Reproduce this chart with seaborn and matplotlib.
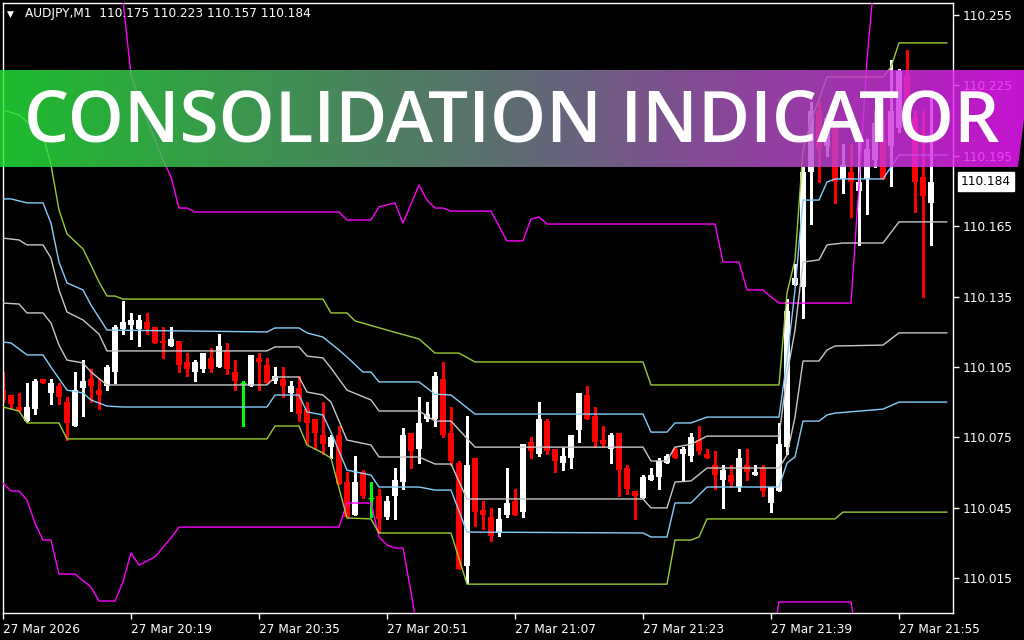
import matplotlib
matplotlib.use("Agg")
import matplotlib.pyplot as plt
import matplotlib.transforms as mtransforms
from matplotlib.colors import LinearSegmentedColormap
from matplotlib.patches import Polygon
import numpy as np
import pandas as pd
import seaborn as sns

# AUDJPY M1 bars, 27 Mar 2026 20:03 -> 21:59
bar_times = pd.date_range("2026-03-27 20:03", periods=117, freq="min")

opens = [110.095, 110.093, 110.088, 110.082, 110.087, 110.100, 110.094, 110.097, 110.090, 110.080,
         110.096, 110.100, 110.095, 110.097, 110.103, 110.121, 110.123, 110.121, 110.124, 110.122,
         110.116, 110.114, 110.116, 110.107, 110.103, 110.104, 110.109, 110.105, 110.112, 110.103,
         110.098, 110.097, 110.109, 110.106, 110.099, 110.100, 110.094, 110.096, 110.087, 110.083,
         110.076, 110.071, 110.076, 110.056, 110.042, 110.060, 110.049, 110.050, 110.041, 110.050,
         110.056, 110.077, 110.070, 110.083, 110.083, 110.100, 110.077, 110.064, 110.020, 110.066,
         110.044, 110.041, 110.034, 110.042, 110.048, 110.043, 110.073, 110.068, 110.082, 110.070,
         110.064, 110.066, 110.078, 110.093, 110.084, 110.074, 110.070, 110.077, 110.062, 110.052,
         110.049, 110.057, 110.058, 110.064, 110.070, 110.068, 110.067, 110.074, 110.068, 110.063,
         110.057, 110.059, 110.054, 110.063, 110.059, 110.062, 110.047, 110.052, 110.071, 110.140,
         110.139, 110.188, 110.214, 110.199, 110.207, 110.185, 110.188, 110.180, 110.185, 110.193,
         110.202, 110.199, 110.207, 110.229, 110.211, 110.186, 110.175]
highs = [110.103, 110.093, 110.094, 110.098, 110.100, 110.100, 110.100, 110.098, 110.092, 110.103,
         110.108, 110.104, 110.100, 110.106, 110.123, 110.133, 110.128, 110.127, 110.128, 110.122,
         110.122, 110.122, 110.116, 110.111, 110.108, 110.111, 110.113, 110.119, 110.115, 110.108,
         110.099, 110.110, 110.111, 110.109, 110.105, 110.105, 110.099, 110.101, 110.090, 110.083,
         110.090, 110.076, 110.080, 110.060, 110.067, 110.061, 110.056, 110.053, 110.050, 110.062,
         110.079, 110.077, 110.092, 110.090, 110.103, 110.107, 110.088, 110.065, 110.084, 110.066,
         110.048, 110.045, 110.045, 110.062, 110.053, 110.072, 110.075, 110.090, 110.083, 110.070,
         110.071, 110.076, 110.094, 110.097, 110.088, 110.080, 110.077, 110.077, 110.063, 110.052,
         110.059, 110.062, 110.066, 110.068, 110.071, 110.071, 110.077, 110.080, 110.070, 110.069,
         110.063, 110.063, 110.070, 110.070, 110.063, 110.063, 110.054, 110.081, 110.134, 110.149,
         110.190, 110.218, 110.218, 110.213, 110.210, 110.200, 110.200, 110.202, 110.202, 110.214,
         110.210, 110.236, 110.232, 110.240, 110.214, 110.214, 110.223]
lows = [110.090, 110.087, 110.086, 110.082, 110.085, 110.098, 110.089, 110.089, 110.074, 110.080,
        110.084, 110.090, 110.087, 110.095, 110.098, 110.119, 110.117, 110.114, 110.119, 110.115,
        110.109, 110.114, 110.103, 110.101, 110.099, 110.103, 110.103, 110.105, 110.102, 110.095,
        110.080, 110.097, 110.095, 110.098, 110.098, 110.092, 110.086, 110.082, 110.072, 110.070,
        110.068, 110.066, 110.055, 110.041, 110.042, 110.049, 110.041, 110.034, 110.040, 110.040,
        110.053, 110.062, 110.064, 110.082, 110.080, 110.075, 110.063, 110.019, 110.013, 110.037,
        110.036, 110.031, 110.033, 110.041, 110.042, 110.041, 110.066, 110.067, 110.068, 110.060,
        110.061, 110.062, 110.073, 110.083, 110.071, 110.071, 110.064, 110.050, 110.051, 110.040,
        110.049, 110.057, 110.053, 110.064, 110.066, 110.057, 110.065, 110.068, 110.066, 110.053,
        110.045, 110.054, 110.052, 110.057, 110.059, 110.050, 110.043, 110.052, 110.068, 110.140,
        110.126, 110.166, 110.184, 110.195, 110.175, 110.179, 110.169, 110.157, 110.170, 110.190,
        110.185, 110.182, 110.205, 110.205, 110.171, 110.135, 110.157]
closes = [110.091, 110.089, 110.086, 110.088, 110.099, 110.098, 110.098, 110.092, 110.081, 110.095,
          110.099, 110.097, 110.093, 110.105, 110.122, 110.124, 110.125, 110.125, 110.121, 110.115,
          110.115, 110.117, 110.106, 110.104, 110.107, 110.111, 110.104, 110.114, 110.104, 110.099,
          110.098, 110.110, 110.107, 110.098, 110.101, 110.097, 110.097, 110.085, 110.081, 110.077,
          110.072, 110.075, 110.055, 110.041, 110.056, 110.050, 110.049, 110.040, 110.048, 110.057,
          110.076, 110.069, 110.081, 110.085, 110.101, 110.076, 110.065, 110.019, 110.063, 110.043,
          110.042, 110.033, 110.040, 110.047, 110.042, 110.072, 110.069, 110.083, 110.069, 110.065,
          110.067, 110.076, 110.094, 110.083, 110.073, 110.072, 110.076, 110.061, 110.053, 110.050,
          110.058, 110.059, 110.065, 110.067, 110.066, 110.070, 110.075, 110.069, 110.066, 110.059,
          110.061, 110.056, 110.066, 110.060, 110.060, 110.052, 110.054, 110.072, 110.129, 110.143,
          110.188, 110.214, 110.198, 110.211, 110.184, 110.191, 110.184, 110.184, 110.198, 110.209,
          110.185, 110.214, 110.231, 110.207, 110.184, 110.178, 110.184]

# indicator bands: vertices (bar index, price)
mag_up_i = [0, 10, 15, 16, 18, 20, 21, 22, 23, 24, 42, 43, 46, 47, 49, 50, 52, 53, 54, 55, 56, 61, 63, 65,
            66, 67, 68, 89, 90, 92, 93, 95, 96, 97, 106, 107, 108, 109, 118]
mag_up_v = [110.3467, 110.2870, 110.2614, 110.2294, 110.2102, 110.1932, 110.1860, 110.1727, 110.1727,
            110.1710, 110.1710, 110.1676, 110.1676, 110.1732, 110.1749, 110.1663, 110.1825, 110.1761,
            110.1727, 110.1727, 110.1714, 110.1714, 110.1587, 110.1587, 110.1680, 110.1689, 110.1659,
            110.1659, 110.1497, 110.1497, 110.1378, 110.1378, 110.1348, 110.1322, 110.1322, 110.1826,
            110.2358, 110.2742, 110.2900]
mag_lo_i = [0, 1, 2, 3, 4, 5, 6, 7, 9, 11, 12, 14, 15, 16, 17, 19, 21, 22, 24, 42, 43, 46, 47, 48, 49,
            50, 51, 52, 60, 90, 96, 97, 106, 107, 118]
mag_lo_v = [110.0555, 110.0521, 110.0521, 110.0483, 110.0384, 110.0312, 110.0312, 110.0167, 110.0167,
            110.0112, 110.0052, 110.0052, 110.0133, 110.0257, 110.0205, 110.0240, 110.0321, 110.0367,
            110.0367, 110.0367, 110.0470, 110.0470, 110.0325, 110.0291, 110.0278, 110.0278, 110.0090,
            109.9886, 109.9700, 109.9720, 109.9843, 110.0048, 110.0048, 109.9843, 109.9700]
green_up_i = [0, 2, 5, 6, 7, 8, 10, 11, 12, 13, 14, 15, 40, 41, 43, 44, 48, 52, 54, 57, 59, 80, 81, 97,
              98, 99, 100, 101, 102, 103, 110, 111, 112, 118]
green_up_v = [110.2145, 110.2124, 110.2039, 110.1911, 110.1719, 110.1617, 110.1553, 110.1484, 110.1412,
              110.1352, 110.1352, 110.1339, 110.1339, 110.1280, 110.1280, 110.1246, 110.1207, 110.1169,
              110.1109, 110.1109, 110.1071, 110.1071, 110.0973, 110.0973, 110.1365, 110.1506, 110.1975,
              110.2100, 110.2190, 110.2286, 110.2286, 110.2328, 110.2431, 110.2431]
green_lo_i = [0, 2, 3, 7, 8, 33, 34, 37, 38, 40, 41, 43, 46, 47, 56, 58, 83, 84, 86, 87, 88, 104, 105, 118]
green_lo_v = [110.0879, 110.0862, 110.0811, 110.0811, 110.0743, 110.0743, 110.0798, 110.0798, 110.0717,
              110.0683, 110.0661, 110.0406, 110.0402, 110.0342, 110.0342, 110.0124, 110.0124, 110.0312,
              110.0312, 110.0325, 110.0402, 110.0402, 110.0431, 110.0431]
blue_up_i = [0, 1, 3, 5, 6, 7, 8, 10, 11, 13, 33, 34, 37, 38, 40, 42, 43, 45, 46, 47, 52, 54, 56, 59, 80,
             81, 83, 84, 86, 88, 97, 98, 99, 100, 102, 103, 104, 110, 112, 118]
blue_up_v = [110.1766, 110.1766, 110.1749, 110.1749, 110.1663, 110.1497, 110.1408, 110.1378, 110.1314,
             110.1207, 110.1199, 110.1216, 110.1216, 110.1195, 110.1177, 110.1122, 110.1092, 110.1028,
             110.1028, 110.0986, 110.0986, 110.0934, 110.0930, 110.0849, 110.0849, 110.0772, 110.0772,
             110.0811, 110.0811, 110.0836, 110.0836, 110.1079, 110.1378, 110.1761, 110.1761, 110.1838,
             110.1851, 110.1851, 110.1953, 110.1953]
blue_lo_i = [0, 1, 3, 5, 6, 8, 10, 11, 13, 15, 33, 34, 37, 38, 40, 41, 43, 46, 47, 52, 54, 56, 58, 80,
             81, 83, 84, 86, 88, 97, 98, 99, 100, 102, 103, 104, 110, 112, 118]
blue_lo_v = [110.1156, 110.1152, 110.1101, 110.1101, 110.1049, 110.0951, 110.0939, 110.0909, 110.0883,
             110.0879, 110.0879, 110.0930, 110.0930, 110.0858, 110.0845, 110.0772, 110.0610, 110.0589,
             110.0538, 110.0538, 110.0525, 110.0525, 110.0346, 110.0342, 110.0325, 110.0325, 110.0470,
             110.0470, 110.0538, 110.0538, 110.0640, 110.0666, 110.0819, 110.0819, 110.0845, 110.0853,
             110.0870, 110.0900, 110.0900]
gray_up_i = [0, 2, 3, 5, 6, 7, 8, 9, 10, 12, 13, 33, 34, 37, 38, 40, 41, 43, 46, 47, 52, 54, 56, 59, 80,
             81, 83, 84, 86, 88, 97, 98, 99, 100, 102, 103, 105, 110, 112, 118]
gray_up_v = [110.1599, 110.1591, 110.1570, 110.1570, 110.1514, 110.1378, 110.1284, 110.1267, 110.1250,
             110.1190, 110.1118, 110.1118, 110.1135, 110.1135, 110.1096, 110.1088, 110.1045, 110.0951,
             110.0909, 110.0862, 110.0862, 110.0819, 110.0819, 110.0708, 110.0708, 110.0649, 110.0649,
             110.0708, 110.0720, 110.0755, 110.0755, 110.1015, 110.1207, 110.1497, 110.1506, 110.1570,
             110.1578, 110.1578, 110.1668, 110.1668]
gray_lo_i = [0, 2, 3, 5, 6, 7, 8, 10, 11, 13, 33, 34, 37, 38, 40, 41, 43, 46, 47, 52, 54, 56, 58, 80, 81,
             83, 84, 86, 88, 97, 98, 99, 100, 102, 103, 104, 110, 112, 118]
gray_lo_v = [110.1322, 110.1318, 110.1280, 110.1280, 110.1237, 110.1143, 110.1079, 110.1067, 110.1028,
             110.0973, 110.0973, 110.1007, 110.1007, 110.0943, 110.0930, 110.0900, 110.0738, 110.0717,
             110.0666, 110.0666, 110.0636, 110.0636, 110.0487, 110.0487, 110.0449, 110.0449, 110.0559,
             110.0564, 110.0619, 110.0619, 110.0674, 110.0836, 110.1075, 110.1075, 110.1122, 110.1139,
             110.1143, 110.1195, 110.1195]

tick_bars = [0, 16, 32, 48, 64, 80, 96, 112]
tick_text = ["27 Mar 2026", "27 Mar 20:19", "27 Mar 20:35", "27 Mar 20:51",
             "27 Mar 21:07", "27 Mar 21:23", "27 Mar 21:39", "27 Mar 21:55"]
price_ticks = [110.015, 110.045, 110.075, 110.105, 110.135, 110.165, 110.195, 110.225, 110.255]

sns.set_theme(style="dark", rc={"axes.facecolor": "black", "figure.facecolor": "black",
                                "axes.edgecolor": "white", "axes.grid": False})
plt.rcParams["font.family"] = ["DejaVu Sans"]

W, H = 1024, 640
fig = plt.figure(figsize=(W / 100, H / 100), dpi=100)
ax = fig.add_axes([2.5 / W, 27 / H, 950.5 / W, 610 / H])

# candles
x = np.arange(len(opens))
o, h, l, c = (np.array(a) for a in (opens, highs, lows, closes))
cols = np.where(c > o, "#ffffff", np.where(c < o, "#ff0000", "#00ff00"))
ax.vlines(x, l, h, colors=cols, lw=1, zorder=2, antialiased=False)
body = ~(c == o)
ax.bar(x[body], np.maximum(np.abs(c - o), 0.0004)[body], bottom=np.minimum(o, c)[body],
       width=0.64, color=cols[body], linewidth=0, zorder=2)
ax.hlines(o[~body], x[~body] - 0.35, x[~body] + 0.35, colors="#00ff00", lw=1, zorder=2)

# bands
bands = [(mag_up_i, mag_up_v, "#ff00ff"), (mag_lo_i, mag_lo_v, "#ff00ff"),
         (green_up_i, green_up_v, "#9acd32"), (green_lo_i, green_lo_v, "#9acd32"),
         (blue_up_i, blue_up_v, "#87cefa"), (blue_lo_i, blue_lo_v, "#87cefa"),
         (gray_up_i, gray_up_v, "#c8c8c8"), (gray_lo_i, gray_lo_v, "#c8c8c8")]
for bi, bv, col in bands:
    sns.lineplot(x=bi, y=bv, color=col, lw=1, ax=ax, estimator=None, sort=False, zorder=3)

ax.set_xlim(-0.06, 118.75)
ax.set_ylim(110.0001, 110.2601)
ax.set_xlabel("")
ax.set_ylabel("")
for s in ax.spines.values():
    s.set_color("white")
    s.set_linewidth(1)

ax.yaxis.tick_right()
ax.set_yticks(price_ticks)
ax.set_yticklabels([f"{p:.3f}" for p in price_ticks])
ax.set_xticks(tick_bars)
ax.set_xticklabels(tick_text)
for lbl in ax.get_xticklabels():
    lbl.set_ha("left")
ax.tick_params(axis="both", colors="white", length=4, width=1, labelsize=8.7,
               bottom=True, right=True, left=False)
ax.tick_params(axis="y", pad=3)
ax.tick_params(axis="x", pad=3)

# current price box
trans = mtransforms.blended_transform_factory(ax.transAxes, ax.transData)
ax.text(1 + 8 / 950.5, closes[-1], f"{closes[-1]:.3f}", transform=trans, ha="left", va="center",
        color="black", fontsize=8.7, zorder=6,
        bbox=dict(boxstyle="square,pad=0.25", fc="white", ec="white"))

# header
fig.text(7 / W, 1 - 14 / H, "\u25bc", color="white", fontsize=6.5, va="center", ha="left")
fig.text(25 / W, 1 - 14 / H,
         f"AUDJPY,M1  {opens[-1]:.3f} {highs[-1]:.3f} {lows[-1]:.3f} {closes[-1]:.3f}",
         color="white", fontsize=8.7, va="center", ha="left")

# banner overlay
bax = fig.add_axes([0, 0, 1, 1], zorder=10)
bax.set_xlim(0, W)
bax.set_ylim(H, 0)
bax.axis("off")
bax.patch.set_alpha(0)
cmap = LinearSegmentedColormap.from_list("ban", [(0.14, 0.90, 0.22), (0.45, 0.52, 0.55), (0.95, 0.09, 1.0)])
grad = np.linspace(0, 1, 512)[None, :]
img = bax.imshow(grad, cmap=cmap, extent=(0, 1030, 167, 70), aspect="auto", alpha=0.82, zorder=1)
clip = Polygon([(0, 70), (1030, 70), (1018, 167), (0, 167)], closed=True, transform=bax.transData)
img.set_clip_path(clip)
title = bax.text(512, 142, "CONSOLIDATION INDICATOR", ha="center", va="baseline", color="white",
                 fontsize=50, family=["Open Sans", "DejaVu Sans"], weight="semibold", zorder=2)
fig.canvas.draw()
bb = title.get_window_extent()
title.set_fontsize(50 * 975 / bb.width)

fig.savefig("out.png", dpi=100, facecolor="black")
